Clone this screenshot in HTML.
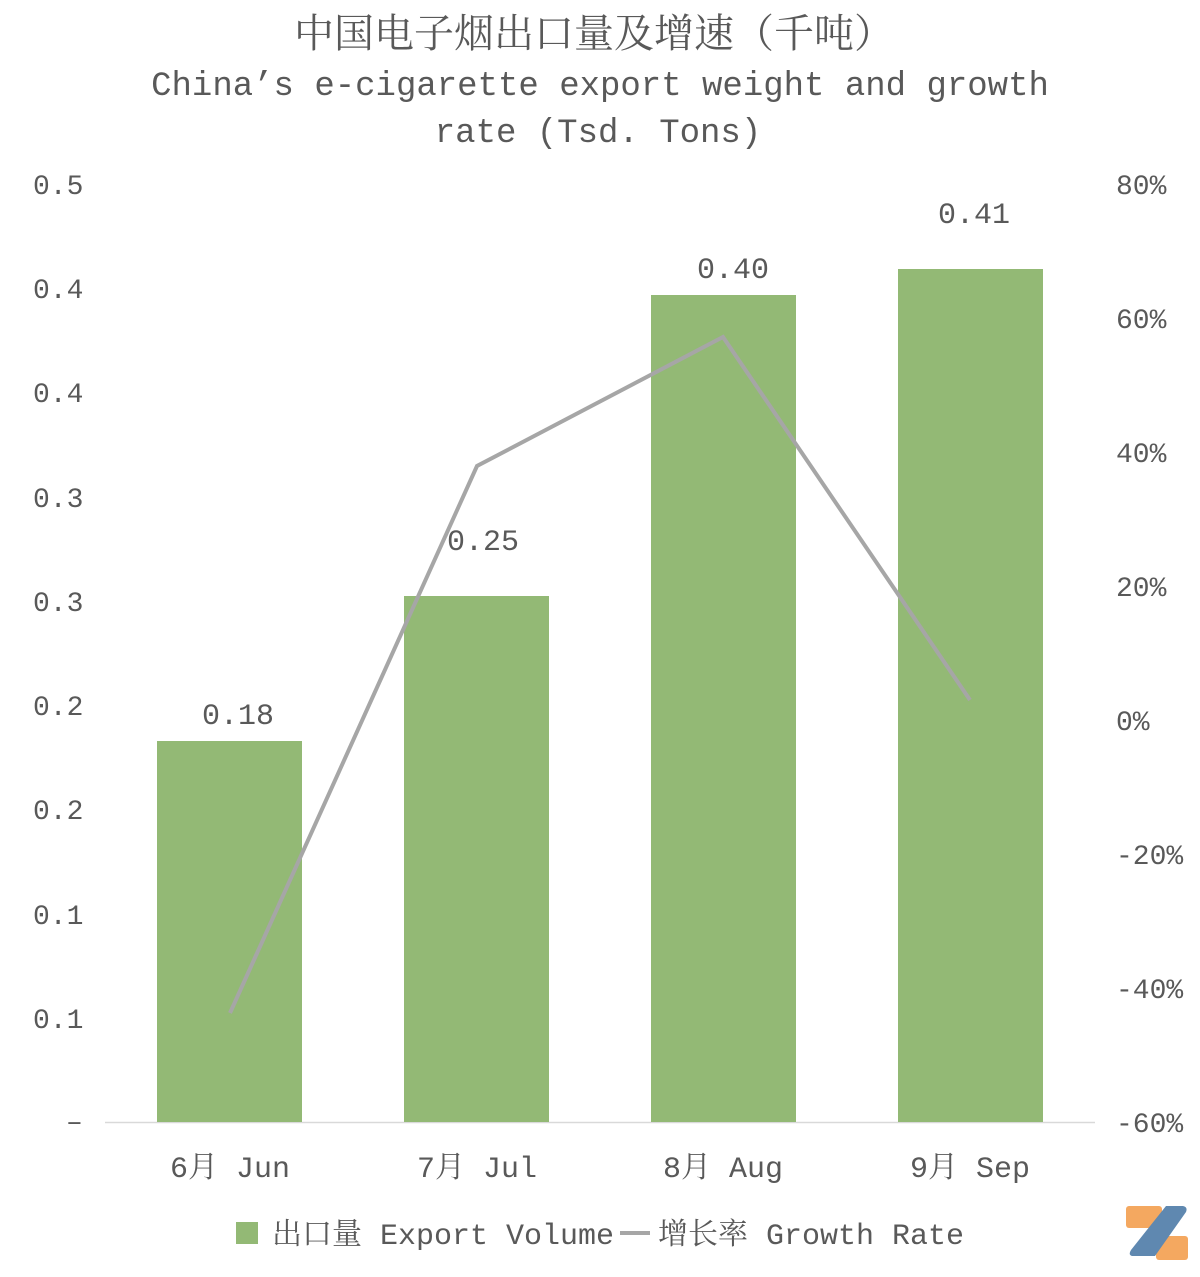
<!DOCTYPE html>
<html><head><meta charset="utf-8"><style>
body{margin:0;background:#fff;}
svg text{font-family:"Liberation Mono","Noto Serif CJK SC",monospace;fill:#595959;}
</style></head><body>
<svg width="1200" height="1272" viewBox="0 0 1200 1272" xmlns="http://www.w3.org/2000/svg">
<g font-size="34" text-anchor="middle">
<text x="594" y="47" font-size="40" font-family="Noto Serif CJK SC,serif">中国电子烟出口量及增速（千吨）</text>
<text x="600" y="95">China’s e-cigarette export weight and growth</text>
<text x="598" y="142">rate (Tsd. Tons)</text>
</g>
<g font-size="28">
<text x="33" y="194">0.5</text>
<text x="33" y="298">0.4</text>
<text x="33" y="402">0.4</text>
<text x="33" y="507">0.3</text>
<text x="33" y="611">0.3</text>
<text x="33" y="715">0.2</text>
<text x="33" y="819">0.2</text>
<text x="33" y="924">0.1</text>
<text x="33" y="1028">0.1</text>
<text x="66" y="1130">–</text>
<text x="1116" y="194">80%</text>
<text x="1116" y="328">60%</text>
<text x="1116" y="462">40%</text>
<text x="1116" y="596">20%</text>
<text x="1116" y="730">0%</text>
<text x="1116" y="864">-20%</text>
<text x="1116" y="998">-40%</text>
<text x="1116" y="1132">-60%</text>
</g>
<line x1="105" y1="1122.5" x2="1095" y2="1122.5" stroke="#d9d9d9" stroke-width="1.5"/>
<g fill="#93b975">
<rect x="157" y="741" width="145" height="381"/>
<rect x="404" y="596" width="145" height="526"/>
<rect x="651" y="295" width="145" height="827"/>
<rect x="898" y="269" width="145" height="853"/>
</g>
<polyline points="230,1013 477,466 723,337 970,700" fill="none" stroke="#a6a6a6" stroke-width="4"/>
<g font-size="30" text-anchor="middle">
<text x="238" y="724">0.18</text>
<text x="483" y="550">0.25</text>
<text x="733" y="278">0.40</text>
<text x="974" y="223">0.41</text>
</g>
<g font-size="30" text-anchor="middle">
<text x="230" y="1177">6月 Jun</text>
<text x="477" y="1177">7月 Jul</text>
<text x="723" y="1177">8月 Aug</text>
<text x="970" y="1177">9月 Sep</text>
</g>
<rect x="236" y="1222" width="22" height="22" fill="#93b975"/>
<line x1="620" y1="1233" x2="650" y2="1233" stroke="#a6a6a6" stroke-width="4"/>
<g font-size="30">
<text x="272" y="1244">出口量 Export Volume</text>
<text x="658" y="1244">增长率 Growth Rate</text>
</g>
<g>
<rect x="1126" y="1206" width="36" height="22" rx="3" fill="#f4a860"/>
<rect x="1156" y="1236" width="32" height="24" rx="3" fill="#f4a860"/>
<path d="M1166 1206 L1183 1206 Q1188 1207 1186 1212 L1155 1256 L1132 1256 Q1128 1255 1131 1250 Z" fill="#5f88b0"/>
</g>
</svg>
</body></html>
